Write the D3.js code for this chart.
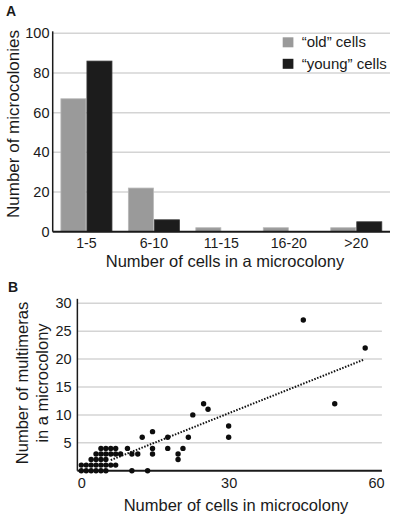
<!DOCTYPE html>
<html>
<head>
<meta charset="utf-8">
<script src="https://cdn.jsdelivr.net/npm/d3@7"></script>
<style>
  body { margin: 0; background: #fff; }
  svg { display: block; font-family: "Liberation Sans", Arial, sans-serif; }
  .tick text { fill: #1a1a1a; }
</style>
</head>
<body>
<div id="chart"></div>
<script>
// Panel A - microcolony size distribution
const categories = ["1-5", "6-10", "11-15", "16-20", ">20"];
const oldCells = [67, 22, 2, 2, 2];
const youngCells = [86, 6, 0, 0, 5];
const seriesNames = ["\u201Cold\u201D cells", "\u201Cyoung\u201D cells"];
const seriesColors = ["#9a9a9a", "#1c1c1c"];
const yTicksA = [0, 20, 40, 60, 80, 100];

// Panel B - multimeras vs cells per microcolony
const cellsX = [0, 1, 2, 3, 4, 5,
  0, 1, 2, 3, 4, 5, 6, 7,
  2, 3, 4, 5,
  3, 4, 5, 6, 7, 8,
  4, 5, 6, 7,
  9.4, 10.3, 11.5, 10.3, 13.5, 12.4, 14.5, 14.5, 14.5,
  17.6, 17.6, 19.7, 19.7, 20.7, 21.8, 22.7, 24.9, 25.8,
  30, 30, 45.2, 51.6, 57.8];
const multimerasY = [0, 0, 0, 0, 0, 0,
  1, 1, 1, 1, 1, 1, 1, 1,
  2, 2, 2, 2,
  3, 3, 3, 3, 3, 3,
  4, 4, 4, 4,
  4, 3, 3, 0, 0, 6, 7, 4, 3,
  6, 4, 3, 2, 4, 6, 10, 12, 11,
  8, 6, 27, 12, 22];
const trendX = [6, 57.5];
const trendY = [1.9, 19.9];
const xTicksB = [0, 30, 60];
const yTicksB = [5, 10, 15, 20, 25, 30];

const W = 393, H = 516;
const ink = "#1a1a1a";
const gridColor = "#d4d4d4";

const svg = d3.select("#chart").append("svg")
  .attr("width", W)
  .attr("height", H);

// ---------- Panel A ----------
const xA = d3.scaleBand().domain(categories).range([52.7, 390])
  .paddingInner(0.228).paddingOuter(0.114);
const xSub = d3.scaleBand().domain([0, 1]).range([0, xA.bandwidth()]);
const yA = d3.scaleLinear().domain([0, 100]).range([231.7, 33.3]);

const gA = svg.append("g");

gA.selectAll(".gridA").data(yTicksA.slice(1)).enter()
  .append("line")
  .attr("x1", xA.range()[0]).attr("x2", xA.range()[1])
  .attr("y1", d => yA(d)).attr("y2", d => yA(d))
  .attr("stroke", gridColor).attr("stroke-width", 1.5);

const rowsA = categories.map((c, i) => ({ cat: c, values: [oldCells[i], youngCells[i]] }));

gA.selectAll(".grp").data(rowsA).enter()
  .append("g")
  .attr("transform", d => `translate(${xA(d.cat)},0)`)
  .selectAll("rect")
  .data(d => d.values.map((v, k) => ({ k, v })))
  .enter().append("rect")
  .attr("x", d => xSub(d.k) + 0.5)
  .attr("width", xSub.bandwidth() - 1)
  .attr("y", d => yA(d.v))
  .attr("height", d => yA(0) - yA(d.v))
  .attr("fill", d => seriesColors[d.k])
  .attr("stroke", d => d.k === 0 ? "#b8b8b8" : "#3a3a3a")
  .attr("stroke-width", 0.8);

// axes lines
gA.append("line")
  .attr("x1", xA.range()[0]).attr("x2", xA.range()[0])
  .attr("y1", yA(101)).attr("y2", yA(0))
  .attr("stroke", ink).attr("stroke-width", 1.5);
gA.append("line")
  .attr("x1", xA.range()[0]).attr("x2", xA.range()[1])
  .attr("y1", yA(0)).attr("y2", yA(0))
  .attr("stroke", ink).attr("stroke-width", 2);

gA.append("g")
  .attr("transform", "translate(49.5,0)")
  .call(d3.axisLeft(yA).tickValues(yTicksA).tickSize(0).tickPadding(0))
  .call(g => g.select(".domain").remove())
  .selectAll("text").attr("font-size", 14.5);

gA.append("g")
  .attr("transform", `translate(0,${yA(0) + 4})`)
  .call(d3.axisBottom(xA).tickSize(0).tickPadding(0))
  .call(g => g.select(".domain").remove())
  .selectAll("text").attr("font-size", 14.2).attr("dy", "0.85em");

gA.append("text")
  .attr("x", 225).attr("y", 267)
  .attr("text-anchor", "middle")
  .attr("font-size", 16.5).attr("fill", ink)
  .text("Number of cells in a microcolony");

gA.append("text")
  .attr("transform", "translate(18.5,124) rotate(-90)")
  .attr("text-anchor", "middle")
  .attr("font-size", 17).attr("fill", ink)
  .text("Number of microcolonies");

// legend
const leg = gA.selectAll(".leg").data(seriesNames).enter()
  .append("g")
  .attr("transform", (d, i) => `translate(282.7,${37.3 + i * 21.5})`);
leg.append("rect")
  .attr("width", 10.7).attr("height", 10)
  .attr("fill", (d, i) => seriesColors[i]);
leg.append("text")
  .attr("x", 19).attr("y", 10)
  .attr("font-size", 15).attr("fill", ink)
  .text(d => d);

gA.append("text")
  .attr("x", 6).attr("y", 15.5)
  .attr("font-size", 14).attr("font-weight", "bold").attr("fill", ink)
  .text("A");

// ---------- Panel B ----------
const xB = d3.scaleLinear().domain([0, 60]).range([81.3, 376]);
const yB = d3.scaleLinear().domain([0, 30]).range([470.7, 303.3]);

const gB = svg.append("g");

gB.selectAll(".gridB").data(yTicksB).enter()
  .append("line")
  .attr("x1", xB(-0.8)).attr("x2", xB(61.2))
  .attr("y1", d => yB(d)).attr("y2", d => yB(d))
  .attr("stroke", gridColor).attr("stroke-width", 1.5);

gB.append("line")
  .attr("x1", xB(-0.8)).attr("x2", xB(-0.8))
  .attr("y1", yB(30.8)).attr("y2", yB(0))
  .attr("stroke", ink).attr("stroke-width", 1.5);
gB.append("line")
  .attr("x1", xB(-0.8)).attr("x2", xB(61.2))
  .attr("y1", yB(0)).attr("y2", yB(0))
  .attr("stroke", ink).attr("stroke-width", 2);

gB.append("line")
  .attr("x1", xB(trendX[0])).attr("x2", xB(trendX[1]))
  .attr("y1", yB(trendY[0])).attr("y2", yB(trendY[1]))
  .attr("stroke", "#111").attr("stroke-width", 2)
  .attr("stroke-dasharray", "1.5,1.5");

gB.selectAll(".pt").data(cellsX).enter()
  .append("circle")
  .attr("cx", d => xB(d))
  .attr("cy", (d, i) => yB(multimerasY[i]))
  .attr("r", 2.7)
  .attr("fill", "#0d0d0d");

gB.append("g")
  .attr("transform", "translate(71.7,0)")
  .call(d3.axisLeft(yB).tickValues(yTicksB).tickSize(0).tickPadding(0))
  .call(g => g.select(".domain").remove())
  .selectAll("text").attr("font-size", 14.5);

gB.append("g")
  .attr("transform", `translate(0,${yB(0) + 5})`)
  .call(d3.axisBottom(xB).tickValues(xTicksB).tickSize(0).tickPadding(0))
  .call(g => g.select(".domain").remove())
  .selectAll("text").attr("font-size", 14.5).attr("dy", "0.85em");

gB.append("text")
  .attr("x", 236).attr("y", 511)
  .attr("text-anchor", "middle")
  .attr("font-size", 16.5).attr("fill", ink)
  .text("Number of cells in microcolony");

const yTitleB = gB.append("text")
  .attr("transform", "translate(0,383) rotate(-90)")
  .attr("text-anchor", "middle")
  .attr("font-size", 16.5).attr("fill", ink);
yTitleB.append("tspan").attr("x", 0).attr("y", 27.5).text("Number of multimeras");
yTitleB.append("tspan").attr("x", 0).attr("y", 47.5).text("in a microcolony");

gB.append("text")
  .attr("x", 8).attr("y", 292)
  .attr("font-size", 14).attr("font-weight", "bold").attr("fill", ink)
  .text("B");
</script>
</body>
</html>
